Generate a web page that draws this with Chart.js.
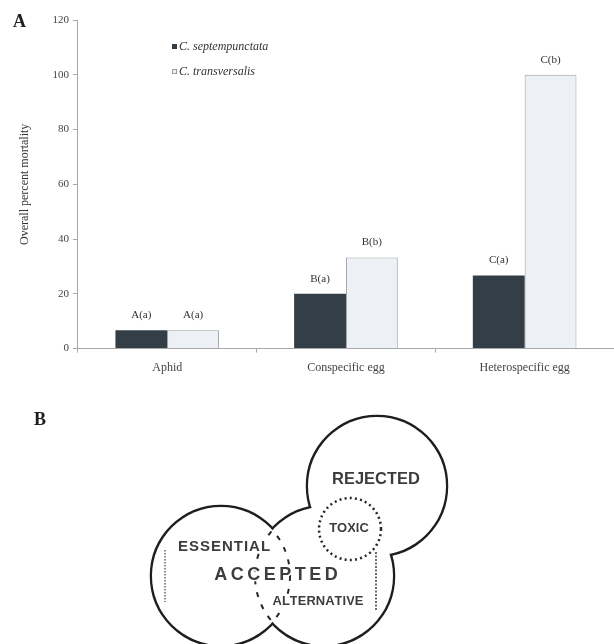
<!DOCTYPE html>
<html>
<head>
<meta charset="utf-8">
<title>Overall percent mortality and prey categories</title>
<script src="https://cdn.jsdelivr.net/npm/chart.js@4.4.0/dist/chart.umd.min.js"></script>
<style>
  html, body { margin: 0; padding: 0; background: #fff; }
  #page { position: relative; width: 614px; height: 644px; overflow: hidden; background: #fff; }
  #mortality { position: absolute; left: 0; top: 0; }
  #foodweb { position: absolute; left: 0; top: 385px; }
  .panel { position: absolute; font: bold 18px "Liberation Serif", serif; color: #1e1e1e; line-height: 18px; }
  #legend { position: absolute; left: 172px; top: 34px; font: italic 12px "Liberation Serif", serif; color: #333; }
  #legend .item { display: flex; align-items: center; height: 25px; white-space: nowrap; }
  #legend .swatch { width: 5px; height: 5px; margin-right: 2px; box-sizing: border-box; }
</style>
</head>
<body>
<div id="page">
  <canvas id="mortality" width="614" height="385"></canvas>
  <canvas id="foodweb" width="614" height="259"></canvas>
  <div class="panel" style="left:13px;top:12px;">A</div>
  <div class="panel" style="left:34px;top:410px;">B</div>
  <div id="legend"></div>
</div>
<script>
// ---- Panel A: mortality by prey type ----
const categories = ['Aphid', 'Conspecific egg', 'Heterospecific egg'];
const seriesNames = ['C. septempunctata', 'C. transversalis'];
const septempunctata = [6.7, 20, 26.7];
const transversalis = [6.7, 33.3, 100];
const septLetters = ['A(a)', 'B(a)', 'C(a)'];
const transLetters = ['A(a)', 'B(b)', 'C(b)'];
const yMin = 0, yMax = 120, yStep = 20;
const seriesFill = ['#333e46', '#edf0f4'];
const seriesBorder = ['#333e46', '#9b9fa4'];

const serif = '"Liberation Serif", "Times New Roman", serif';
const sans = '"Liberation Sans", Arial, sans-serif';

// Significance letters above each bar
const letterPlugin = {
  id: 'letters',
  afterDatasetsDraw(chart) {
    const ctx = chart.ctx;
    ctx.save();
    ctx.font = '11px ' + serif;
    ctx.fillStyle = '#333';
    ctx.textAlign = 'center';
    ctx.textBaseline = 'middle';
    chart.data.datasets.forEach((ds, i) => {
      chart.getDatasetMeta(i).data.forEach((bar, j) => {
        ctx.fillText(ds.letters[j], bar.x, bar.y - 15);
      });
    });
    ctx.restore();
  }
};

const mortality = new Chart(document.getElementById('mortality'), {
  type: 'bar',
  data: {
    labels: categories,
    datasets: [
      { label: seriesNames[0], data: septempunctata, letters: septLetters,
        backgroundColor: seriesFill[0], borderColor: seriesBorder[0], borderWidth: 0 },
      { label: seriesNames[1], data: transversalis, letters: transLetters,
        backgroundColor: seriesFill[1], borderColor: seriesBorder[1], borderWidth: 1 }
    ]
  },
  options: {
    responsive: false,
    animation: false,
    events: [],
    layout: { autoPadding: false, padding: { left: 18, top: 20, right: 0, bottom: 2 } },
    datasets: { bar: { categoryPercentage: 0.58, barPercentage: 1 } },
    plugins: { legend: { display: false }, tooltip: { enabled: false } },
    scales: {
      x: {
        grid: { drawOnChartArea: false, tickLength: 4, color: '#a8a8a8' },
        border: { color: '#a8a8a8' },
        ticks: { padding: 8, color: '#444', font: { family: serif, size: 12 } }
      },
      y: {
        min: yMin, max: yMax,
        grid: { drawOnChartArea: false, tickLength: 5, color: '#a8a8a8' },
        border: { color: '#a8a8a8' },
        ticks: { stepSize: yStep, padding: 4, color: '#444', font: { family: serif, size: 11 } },
        title: { display: true, text: 'Overall percent mortality', color: '#333',
                 padding: { top: 0, bottom: 16 }, font: { family: serif, size: 12 } }
      }
    }
  },
  plugins: [letterPlugin]
});

// HTML legend built from the chart's datasets
const legendBox = document.getElementById('legend');
mortality.data.datasets.forEach(ds => {
  const row = document.createElement('div');
  row.className = 'item';
  const sw = document.createElement('span');
  sw.className = 'swatch';
  sw.style.background = ds.backgroundColor;
  sw.style.border = '1px solid ' + ds.borderColor;
  const tx = document.createElement('span');
  tx.textContent = ds.label;
  row.appendChild(sw);
  row.appendChild(tx);
  legendBox.appendChild(row);
});

// ---- Panel B: prey categories diagram ----
const circleNames = ['essential', 'alternative', 'rejected'];
const circleX = [221, 324, 377];
const circleY = [576, 576, 486];
const circleR = [69, 69, 69];
const toxicX = [350];
const toxicY = [529];
const toxicR = [31];
const markX = [165, 376];
const markTop = [550, 552];
const markBottom = [602, 610];
const regionLabels = ['REJECTED', 'TOXIC', 'ESSENTIAL', 'ACCEPTED', 'ALTERNATIVE'];
const regionX = [376, 349, 224, 276, 318];
const regionY = [479, 528, 547, 575, 601];
const regionSize = [16.5, 13, 15, 18, 13];
const regionSpacing = [0, 0, 1, 3.5, 0];

const circles = circleX.map((x, i) => ({ x: x, y: circleY[i], r: circleR[i] }));
const toxic = toxicX.map((x, i) => ({ x: x, y: toxicY[i], r: toxicR[i] }));

// Dashed / clipped strokes for the inner boundaries
const strokePlugin = {
  id: 'strokes',
  beforeDatasetDraw(chart, args) {
    const ds = chart.data.datasets[args.index];
    const ctx = chart.ctx;
    ctx.save();
    if (ds.clipTo !== undefined) {
      const el = chart.getDatasetMeta(1).data[ds.clipTo];
      ctx.beginPath();
      ctx.arc(el.x, el.y, el.options.radius, 0, Math.PI * 2);
      ctx.clip();
    }
    if (ds.dash) ctx.setLineDash(ds.dash);
  },
  afterDatasetDraw(chart) {
    chart.ctx.restore();
  }
};

function drawSpaced(ctx, text, x, y, spacing) {
  const widths = Array.from(text).map(ch => ctx.measureText(ch).width);
  const total = widths.reduce((a, b) => a + b, 0) + spacing * (text.length - 1);
  let cx = x - total / 2;
  Array.from(text).forEach((ch, k) => {
    ctx.strokeText(ch, cx, y);
    ctx.fillText(ch, cx, y);
    cx += widths[k] + spacing;
  });
}

const labelPlugin = {
  id: 'regionLabels',
  afterDatasetsDraw(chart) {
    const ctx = chart.ctx;
    const xs = chart.scales.x, ys = chart.scales.y;
    ctx.save();
    ctx.textAlign = 'left';
    ctx.textBaseline = 'middle';
    ctx.fillStyle = '#3d3d3d';
    ctx.strokeStyle = '#fff';
    ctx.lineWidth = 3;
    ctx.lineJoin = 'round';
    regionLabels.forEach((t, i) => {
      ctx.font = 'bold ' + regionSize[i] + 'px ' + sans;
      drawSpaced(ctx, t, xs.getPixelForValue(regionX[i]), ys.getPixelForValue(regionY[i]), regionSpacing[i]);
    });
    ctx.restore();
  }
};

new Chart(document.getElementById('foodweb'), {
  type: 'bubble',
  data: {
    datasets: [
      { label: 'outline', data: circles, backgroundColor: '#fff', borderColor: '#1e1e1e', borderWidth: 4.5, order: 6 },
      { label: 'fill', data: circles, backgroundColor: '#fff', borderWidth: 0, order: 5 },
      { label: 'essential edge', data: [circles[0]], backgroundColor: 'rgba(0,0,0,0)',
        borderColor: '#262626', borderWidth: 2, dash: [5, 8], clipTo: 1, order: 4 },
      { label: 'alternative edge', data: [circles[1]], backgroundColor: 'rgba(0,0,0,0)',
        borderColor: '#262626', borderWidth: 2, dash: [5, 8], clipTo: 0, order: 3 },
      { label: 'toxic', data: toxic, backgroundColor: 'rgba(0,0,0,0)',
        borderColor: '#262626', borderWidth: 2.5, dash: [2, 3.2], order: 2 },
      { type: 'line', label: 'left mark', data: [{ x: markX[0], y: markTop[0] }, { x: markX[0], y: markBottom[0] }],
        borderColor: '#8a8a8a', borderWidth: 2, borderDash: [1.5, 1.5], pointRadius: 0, order: 1 },
      { type: 'line', label: 'right mark', data: [{ x: markX[1], y: markTop[1] }, { x: markX[1], y: markBottom[1] }],
        borderColor: '#6a6a6a', borderWidth: 2, borderDash: [2, 1.5], pointRadius: 0, order: 1 }
    ]
  },
  options: {
    responsive: false,
    animation: false,
    events: [],
    layout: { autoPadding: false, padding: 0 },
    plugins: { legend: { display: false }, tooltip: { enabled: false } },
    scales: {
      x: { type: 'linear', display: false, min: 0, max: 614 },
      y: { type: 'linear', display: false, min: 385, max: 644, reverse: true }
    }
  },
  plugins: [strokePlugin, labelPlugin]
});
</script>
</body>
</html>
